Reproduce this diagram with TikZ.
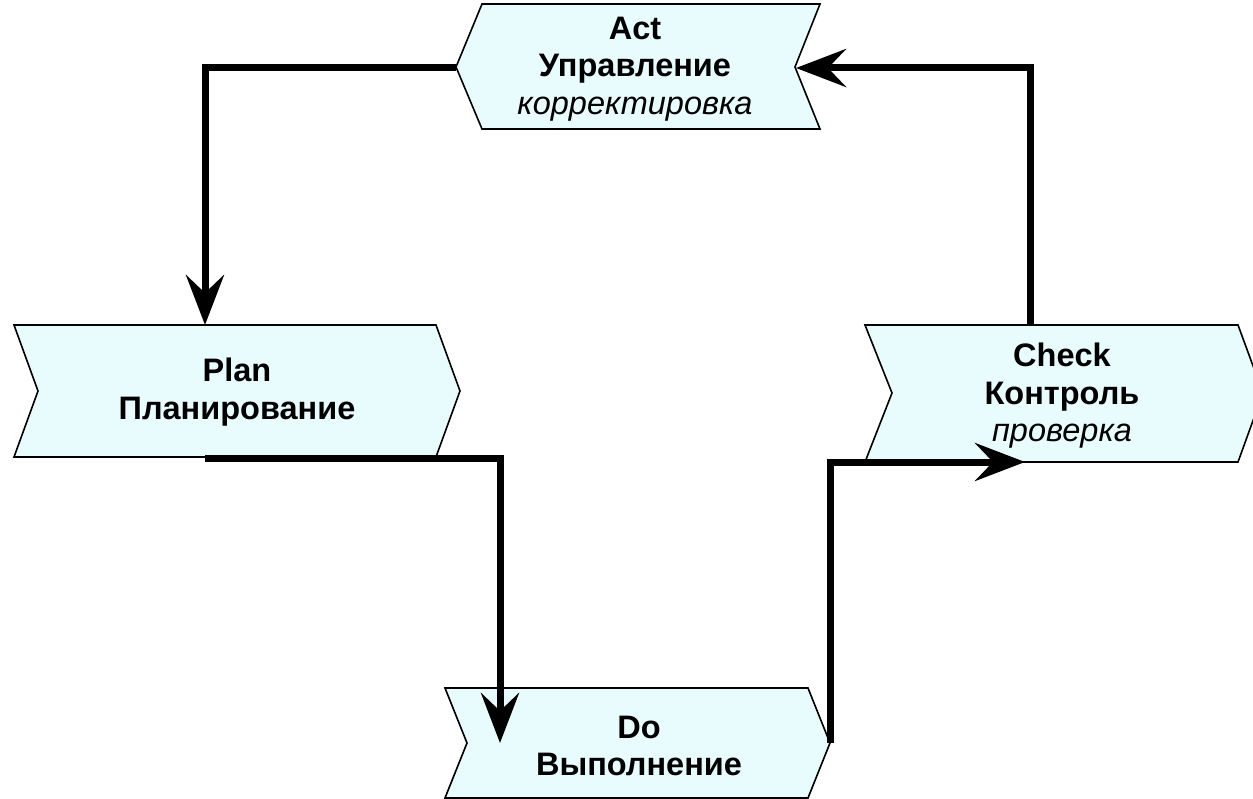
\documentclass[tikz,border=0pt]{standalone}
\usepackage{fontspec}
\setmainfont{Liberation Sans}
\usetikzlibrary{arrows.meta}
\definecolor{boxfill}{HTML}{E8FBFD}
\begin{document}
\begin{tikzpicture}[x=1pt,y=-1pt,
  chev/.style={draw=black,line width=1.6pt,fill=boxfill,line join=miter},
  lbl/.style={align=center,font=\fontsize{32.5}{37.5}\selectfont,inner sep=0pt},
  conn/.style={line width=7pt,line join=miter,line cap=butt,
    -{Stealth[length=50pt,width=38pt,inset=18pt]}}]
\clip (0,0) rectangle (1253,799);
% shapes
\draw[chev] (482,4) -- (820,4) -- (795,67) -- (820,129) -- (482,129) -- (456,67) -- cycle;
\draw[chev] (14,325) -- (436,325) -- (460,391) -- (436,457) -- (14,457) -- (38,391) -- cycle;
\draw[chev] (865,325) -- (1238,325) -- (1263,393) -- (1238,462) -- (865,462) -- (892,393) -- cycle;
\draw[chev] (445,688) -- (808,688) -- (830,743) -- (808,798) -- (445,798) -- (467,743) -- cycle;
% labels
\node[lbl] (act) at (635,69) {\textbf{Act}\\\textbf{Управление}\\\textit{корректировка}};
\node[lbl] (plan) at (237,392) {\textbf{Plan}\\\textbf{Планирование}};
\node[lbl] (check) at (1062,396) {\textbf{Check}\\\textbf{Контроль}\\\textit{проверка}};
\node[lbl] (do) at (639,746) {\textbf{Do}\\\textbf{Выполнение}};
% connector end points
\coordinate (actW) at (456,68);
\coordinate (actE) at (796,68);
\coordinate (planN) at (205,325);
\coordinate (planS) at (205,458);
\coordinate (doIn) at (500,743);
\coordinate (doE) at (830,743);
\coordinate (checkIn) at (1025,462);
\coordinate (checkN) at (1030,325);
% connectors
\draw[conn] (actW) -| (planN);
\draw[conn] (planS) -| (doIn);
\draw[conn] (doE) |- (checkIn);
\draw[conn] (checkN) |- (actE);
\end{tikzpicture}
\end{document}
